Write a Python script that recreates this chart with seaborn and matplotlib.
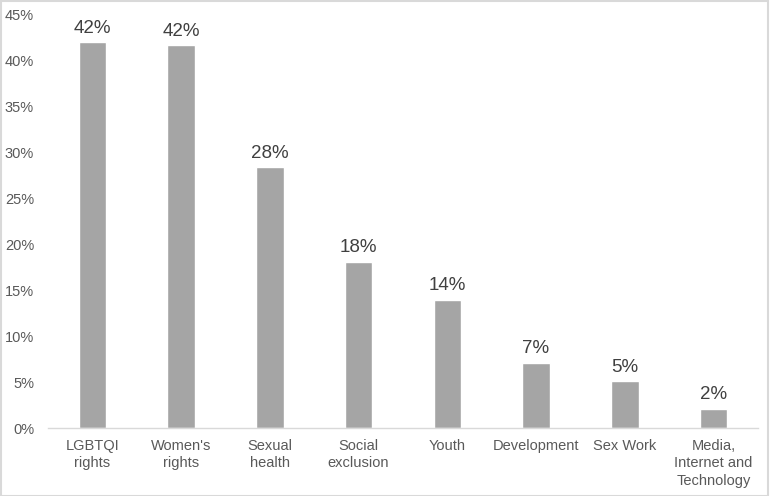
import numpy as np
import pandas as pd
import matplotlib
matplotlib.use("Agg")
import matplotlib.pyplot as plt
import seaborn as sns
from matplotlib.ticker import PercentFormatter
from matplotlib.patches import Rectangle

categories = ["LGBTQI\nrights", "Women's\nrights", "Sexual\nhealth", "Social\nexclusion",
              "Youth", "Development", "Sex Work", "Media,\nInternet and\nTechnology"]
values = [42.0, 41.7, 28.4, 18.1, 14.0, 7.1, 5.1, 2.1]
labels = ["42%", "42%", "28%", "18%", "14%", "7%", "5%", "2%"]

sns.set_theme(style="white")
plt.rcParams["font.family"] = ["Liberation Sans", "DejaVu Sans"]

text_gray = "#595959"
bar_gray = "#a5a5a5"
line_gray = "#d9d9d9"

df = pd.DataFrame({"cat": categories, "val": values})

fig = plt.figure(figsize=(7.7, 4.96), dpi=100)
ax = fig.add_axes([0.0623, 0.137, 0.922, 0.833])
sns.barplot(data=df, x="cat", y="val", color=bar_gray, width=0.31, saturation=1, ax=ax)

for i, (v, lab) in enumerate(zip(values, labels)):
    ax.text(i, v + 0.6, lab, ha="center", va="bottom", fontsize=13.5, color="#404040")

ax.set_ylim(0, 45)
ax.set_xlim(-0.5, len(categories) - 0.5)
ax.set_yticks(np.arange(0, 46, 5))
ax.yaxis.set_major_formatter(PercentFormatter(decimals=0))
ax.tick_params(axis="both", length=0, labelsize=10.5, colors=text_gray)
ax.tick_params(axis="x", pad=8)
ax.tick_params(axis="y", pad=10)
for t in ax.get_xticklabels():
    t.set_linespacing(1.3)
ax.set_xlabel("")
ax.set_ylabel("")
for s in ["top", "right", "left"]:
    ax.spines[s].set_visible(False)
ax.spines["bottom"].set_color(line_gray)
ax.spines["bottom"].set_linewidth(1)

fig.patches.append(Rectangle((0.001, 0.001), 0.997, 0.997, transform=fig.transFigure,
                             fill=False, edgecolor=line_gray, linewidth=1.5))

fig.savefig("out.png", dpi=100)
